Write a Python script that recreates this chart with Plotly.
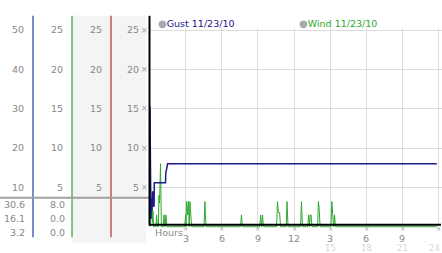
import plotly.graph_objects as go

W, H = 442, 253

# ---- data ----
gust_hours = [0.0, 0.02, 0.05, 0.08, 0.12, 0.17, 0.22, 0.27, 0.32, 0.35, 0.36, 1.30, 1.31, 1.47, 23.9]
gust_vals = [15.3, 4.0, 8.5, 1.0, 3.5, 2.0, 4.5, 3.0, 2.5, 3.0, 5.6, 5.6, 6.75, 8.0, 8.0]

wind_hours = [0.00, 0.05, 0.10, 0.15, 0.20, 0.25, 0.30,
              0.50, 0.55, 0.62,
              0.70, 0.75, 0.80, 0.88, 0.95,
              1.10, 1.17, 1.25, 1.33, 1.42,
              2.90, 2.97, 3.00, 3.05, 3.12, 3.20, 3.27, 3.33, 3.40, 3.47,
              4.50, 4.58, 4.62, 4.67,
              7.55, 7.62, 7.70,
              9.15, 9.22, 9.30, 9.38, 9.45,
              10.55, 10.62, 10.70, 10.80, 10.88,
              11.35, 11.42, 11.50,
              12.55, 12.62, 12.70,
              13.15, 13.22, 13.30, 13.35, 13.42, 13.50,
              13.97, 14.03, 14.10, 14.17,
              15.08, 15.15, 15.22, 15.30, 15.38, 15.45,
              23.9]
wind_vals = [0, 2.5, 1.0, 3.0, 0.5, 2.0, 0,
             0, 1.5, 0,
             0, 4.0, 3.0, 8.0, 0,
             0, 1.5, 0, 1.5, 0,
             0, 1.5, 0, 3.2, 1.5, 3.2, 0, 3.2, 1.5, 0,
             0, 3.2, 1.5, 0,
             0, 1.5, 0,
             0, 1.5, 0, 1.5, 0,
             0, 3.2, 1.8, 1.8, 0,
             0, 3.2, 0,
             0, 3.2, 0,
             0, 1.5, 0, 1.5, 1.5, 0,
             0, 3.2, 2.2, 0,
             0, 3.2, 1.5, 0, 1.5, 0,
             0]

x_tick_vals = [3, 6, 9, 12, 15, 18, 21, 24]
x_tick_text = ["3", "6", "9", "12", "3", "6", "9", "12"]
x_tick_text2 = ["15", "18", "21", "24"]
y_ticks = [5, 10, 15, 20, 25]
y_ticks_double = [10, 20, 30, 40, 50]
stats_col1 = ["30.6", "16.1", "3.2"]
stats_col2 = ["8.0", "0.0", "0.0"]
legend_labels = ["Gust 11/23/10", "Wind 11/23/10"]

GUST_C = "#1a1a8a"
WIND_C = "#2ea82e"
LBL_C = "#888888"
FONT = "DejaVu Sans"
FS = 9.5
MARK = "×"


def px(x):
    return x / W


def py(y):
    return 1 - y / H


fig = go.Figure()
fig.add_trace(go.Scatter(x=wind_hours, y=wind_vals, mode="lines",
                         line=dict(color=WIND_C, width=1), showlegend=False))
fig.add_trace(go.Scatter(x=gust_hours, y=gust_vals, mode="lines",
                         line=dict(color=GUST_C, width=1.5), showlegend=False))
for ax in ["y2", "y3", "y4"]:
    fig.add_trace(go.Scatter(x=[None], y=[None], yaxis=ax, showlegend=False))

ydom = [py(228), py(25)]
yr = [-0.2, 25.3]
yr2 = [-0.4, 50.6]
tickfont = dict(family=FONT, size=FS, color=LBL_C)

common_y = dict(domain=ydom, showgrid=False, zeroline=False, showline=False,
                ticks="", tickfont=tickfont, ticklabelstandoff=9, fixedrange=True)

fig.update_layout(
    width=W, height=H, margin=dict(l=0, r=0, t=0, b=0),
    paper_bgcolor="white", plot_bgcolor="white",
    xaxis=dict(domain=[px(149), 1], range=[-0.08, 24.33], tickvals=x_tick_vals,
               ticktext=x_tick_text, showgrid=True, gridcolor="#dcdcdc", gridwidth=1,
               zeroline=False, showline=False, ticks="", tickfont=tickfont,
               ticklabelstandoff=3),
    yaxis=dict(range=yr, tickvals=y_ticks, showgrid=True, gridcolor="#dcdcdc",
               **{k: v for k, v in common_y.items() if k != "showgrid"}),
    yaxis2=dict(range=yr, tickvals=y_ticks, overlaying="y", anchor="free",
                position=px(111), **common_y),
    yaxis3=dict(range=yr, tickvals=y_ticks, overlaying="y", anchor="free",
                position=px(72), **common_y),
    yaxis4=dict(range=yr2, tickvals=y_ticks_double, overlaying="y", anchor="free",
                position=px(33), **common_y),
)

shapes = []
# gray background of columns 3 and 4
shapes.append(dict(type="rect", xref="paper", yref="paper", x0=px(72), x1=px(146),
                   y0=py(242), y1=py(13), fillcolor="#f4f4f4", line=dict(width=0),
                   layer="below"))
# colored axis lines
for xp, col in [(33, "#2040a0"), (72, "#33a033"), (111, "#b03030")]:
    shapes.append(dict(type="line", xref="paper", yref="paper", x0=px(xp), x1=px(xp),
                       y0=py(237), y1=py(13), line=dict(color=col, width=1.2)))
# horizontal gray divider
shapes.append(dict(type="line", xref="paper", yref="paper", x0=0, x1=px(149),
                   y0=py(197), y1=py(197), line=dict(color="#a0a0a0", width=2)))
# black left axis line
shapes.append(dict(type="line", xref="paper", yref="paper", x0=px(149.5), x1=px(149.5),
                   y0=py(225), y1=py(13), line=dict(color="black", width=2)))
# black baseline
shapes.append(dict(type="line", xref="paper", yref="paper", x0=px(149), x1=px(441),
                   y0=py(224.5), y1=py(224.5), line=dict(color="black", width=2)))
fig.update_layout(shapes=shapes)

ann = []
# stats text
for i, (a, b) in enumerate(zip(stats_col1, stats_col2)):
    yy = py(204 + i * 14)
    ann.append(dict(x=px(27), y=yy, xref="paper", yref="paper", text=a,
                    xanchor="right", yanchor="middle", showarrow=False, font=tickfont))
    ann.append(dict(x=px(67), y=yy, xref="paper", yref="paper", text=b,
                    xanchor="right", yanchor="middle", showarrow=False, font=tickfont))
# markers on the y axis
for v in y_ticks:
    ann.append(dict(x=px(144.5), y=v, xref="paper", yref="y", text=MARK,
                    xanchor="center", yanchor="middle", showarrow=False,
                    font=dict(family=FONT, size=8, color="#a0a0a0")))
# markers above x tick labels
for v in x_tick_vals:
    ann.append(dict(x=v, y=py(228.5), xref="x", yref="paper", text=MARK,
                    xanchor="center", yanchor="middle", showarrow=False,
                    font=dict(family=FONT, size=6.5, color="#a0a0a0")))
# second row of x labels
for i, (v, t) in enumerate(zip(x_tick_vals[4:], x_tick_text2)):
    last = i == len(x_tick_text2) - 1
    ann.append(dict(x=v, y=py(247.5), xref="x", yref="paper", text=t,
                    xanchor="right" if last else "center", xshift=4 if last else 0,
                    yanchor="middle", showarrow=False,
                    font=dict(family=FONT, size=8.5, color="#d8d8d8")))
# Hours label
ann.append(dict(x=px(153), y=py(232), xref="paper", yref="paper", text="Hours",
                xanchor="left", yanchor="middle", showarrow=False, font=tickfont))
# legend
for xp, lbl, col in [(156, legend_labels[0], GUST_C), (297, legend_labels[1], WIND_C)]:
    ann.append(dict(x=px(xp), y=py(20.5), xref="paper", yref="paper",
                    text=f"<span style='color:#aaaaaa;font-size:10px'>●</span>{lbl}",
                    xanchor="left", yanchor="middle", showarrow=False,
                    font=dict(family=FONT, size=FS, color=col)))
fig.update_layout(annotations=ann)

fig.write_html("out.html")
